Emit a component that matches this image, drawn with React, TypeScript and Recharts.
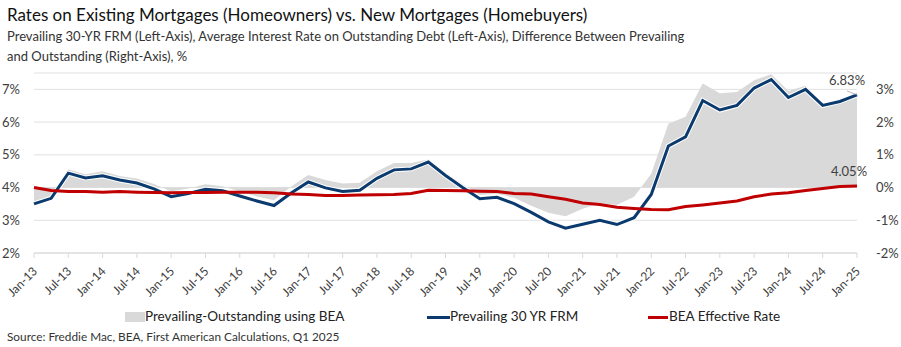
import {
  Area,
  CartesianGrid,
  ComposedChart,
  Line,
  XAxis,
  YAxis,
} from "recharts"

const QUARTERS = [
  "Jan-13", "Apr-13", "Jul-13", "Oct-13",
  "Jan-14", "Apr-14", "Jul-14", "Oct-14",
  "Jan-15", "Apr-15", "Jul-15", "Oct-15",
  "Jan-16", "Apr-16", "Jul-16", "Oct-16",
  "Jan-17", "Apr-17", "Jul-17", "Oct-17",
  "Jan-18", "Apr-18", "Jul-18", "Oct-18",
  "Jan-19", "Apr-19", "Jul-19", "Oct-19",
  "Jan-20", "Apr-20", "Jul-20", "Oct-20",
  "Jan-21", "Apr-21", "Jul-21", "Oct-21",
  "Jan-22", "Apr-22", "Jul-22", "Oct-22",
  "Jan-23", "Apr-23", "Jul-23", "Oct-23",
  "Jan-24", "Apr-24", "Jul-24", "Oct-24",
  "Jan-25",
]

// Prevailing 30 YR FRM, % (left axis)
const PREVAILING = [
  3.5, 3.67, 4.44, 4.29,
  4.36, 4.23, 4.14, 3.96,
  3.72, 3.82, 3.95, 3.9,
  3.74, 3.59, 3.45, 3.83,
  4.17, 3.99, 3.88, 3.92,
  4.28, 4.54, 4.57, 4.78,
  4.37, 4.0, 3.66, 3.7,
  3.51, 3.24, 2.95, 2.76,
  2.88, 3.0, 2.87, 3.08,
  3.79, 5.27, 5.55, 6.66,
  6.37, 6.51, 7.04, 7.3,
  6.75, 7.0, 6.51, 6.63,
  6.83,
]

// BEA effective rate on outstanding debt, % (left axis)
const BEA_RATE = [
  4.0, 3.91, 3.88, 3.88,
  3.86, 3.88, 3.86, 3.85,
  3.84, 3.85, 3.85, 3.86,
  3.86, 3.86, 3.84, 3.8,
  3.79, 3.76, 3.76, 3.77,
  3.78, 3.79, 3.82, 3.92,
  3.91, 3.9, 3.89, 3.88,
  3.82, 3.8, 3.72, 3.64,
  3.53, 3.48, 3.4, 3.36,
  3.33, 3.32, 3.42, 3.47,
  3.53, 3.59, 3.72, 3.8,
  3.84, 3.91, 3.97, 4.03,
  4.05,
]

// Prevailing minus outstanding, percentage points (right axis)
const SPREAD = [
  -0.5, -0.24, 0.56, 0.41,
  0.5, 0.35, 0.28, 0.11,
  -0.12, -0.03, 0.1, 0.04,
  -0.12, -0.27, -0.39, 0.03,
  0.38, 0.23, 0.12, 0.15,
  0.5, 0.75, 0.75, 0.86,
  0.46, 0.1, -0.23, -0.18,
  -0.31, -0.56, -0.77, -0.88,
  -0.65, -0.48, -0.53, -0.28,
  0.42, 1.95, 2.16, 3.18,
  2.88, 2.92, 3.28, 3.46,
  2.95, 3.11, 2.56, 2.61,
  2.8,
]

const LEFT_TICKS = [2, 3, 4, 5, 6, 7]
const RIGHT_TICKS = [-2, -1, 0, 1, 2, 3]

const BLUE = "#0b3a6e"
const RED = "#c00000"
const GRAY = "#d9d9d9"
const TEXT = "#404040"
const FONT = "Lato, 'Noto Sans', sans-serif"

const data = QUARTERS.map((q, i) => ({
  q,
  prevailing: PREVAILING[i],
  bea: BEA_RATE[i],
  spread: SPREAD[i],
}))

const last = QUARTERS.length - 1

function XTick({ x, y, payload }: any) {
  return (
    <text
      x={x + 4}
      y={y + 12}
      transform={`rotate(-45 ${x + 4} ${y + 12})`}
      textAnchor="end"
      fontSize={12}
      fill={TEXT}
      fontFamily={FONT}
    >
      {payload.value}
    </text>
  )
}

function endLabel(text: string, dx: number, leader: boolean) {
  return ({ x, y, index }: any) => {
    if (index !== last) return null
    return (
      <g>
        {leader && (
          <line x1={x - 10} y1={y - 4} x2={x} y2={y} stroke="#a6a6a6" strokeWidth={0.8} />
        )}
        <text
          x={x - dx}
          y={y - 10}
          textAnchor="middle"
          fontSize={13}
          fill={TEXT}
          fontFamily={FONT}
        >
          {text}
        </text>
      </g>
    )
  }
}

export default function App() {
  return (
    <div
      style={{
        position: "absolute",
        left: 0,
        top: 0,
        width: 901,
        height: 347,
        background: "#fff",
        fontFamily: FONT,
        color: "#222",
      }}
    >
      <div style={{ position: "absolute", left: 7, top: 4, fontSize: 17, color: "#111" }}>
        Rates on Existing Mortgages (Homeowners) vs. New Mortgages (Homebuyers)
      </div>
      <div
        style={{
          position: "absolute",
          left: 7,
          top: 26,
          width: 880,
          fontSize: 13,
          lineHeight: "20px",
          color: "#333",
        }}
      >
        Prevailing 30-YR FRM (Left-Axis), Average Interest Rate on Outstanding Debt (Left-Axis), Difference Between Prevailing
        <br />
        and Outstanding (Right-Axis), %
      </div>

      <div style={{ position: "absolute", left: 0, top: 0 }}>
        <ComposedChart
          width={901}
          height={347}
          data={data}
          margin={{ top: 73, right: 0, bottom: 0, left: 0 }}
        >
          <CartesianGrid yAxisId="left" vertical={false} stroke="#e0e0e0" />
          <XAxis
            dataKey="q"
            interval={1}
            height={94}
            tick={<XTick />}
            tickSize={5}
            stroke="#d9d9d9"
            tickLine={{ stroke: "#d9d9d9" }}
          />
          <YAxis
            yAxisId="left"
            domain={[2, 7.5]}
            ticks={LEFT_TICKS}
            width={34}
            axisLine={false}
            tickLine={false}
            tickMargin={8}
            tickFormatter={(v) => `${v}%`}
            tick={{ fontSize: 13, fill: TEXT, fontFamily: FONT }}
          />
          <YAxis
            yAxisId="right"
            orientation="right"
            domain={[-2, 3.5]}
            ticks={RIGHT_TICKS}
            width={44}
            axisLine={false}
            tickLine={false}
            tickMargin={13}
            tickFormatter={(v) => `${v}%`}
            tick={{ fontSize: 13, fill: TEXT, fontFamily: FONT }}
          />
          <Area
            yAxisId="right"
            dataKey="spread"
            type="linear"
            fill={GRAY}
            fillOpacity={1}
            stroke="none"
            isAnimationActive={false}
          />
          <Line
            yAxisId="left"
            dataKey="prevailing"
            type="linear"
            stroke="#ffffff"
            strokeWidth={5}
            dot={false}
            activeDot={false}
            legendType="none"
            isAnimationActive={false}
          />
          <Line
            yAxisId="left"
            dataKey="prevailing"
            type="linear"
            stroke={BLUE}
            strokeWidth={3}
            dot={false}
            activeDot={false}
            label={endLabel("6.83%", 10, true)}
            isAnimationActive={false}
          />
          <Line
            yAxisId="left"
            dataKey="bea"
            type="linear"
            stroke={RED}
            strokeWidth={3}
            dot={false}
            activeDot={false}
            label={endLabel("4.05%", 8, false)}
            isAnimationActive={false}
          />
        </ComposedChart>
      </div>

      <div
        style={{
          position: "absolute",
          left: 0,
          top: 308,
          width: 901,
          height: 18,
          fontSize: 13.5,
          color: "#222",
        }}
      >
        <div style={{ position: "absolute", left: 125, top: 4, width: 20, height: 10, background: GRAY }} />
        <div style={{ position: "absolute", left: 145, top: 0 }}>Prevailing-Outstanding using BEA</div>
        <div style={{ position: "absolute", left: 427, top: 8, width: 23, height: 3, background: BLUE }} />
        <div style={{ position: "absolute", left: 450, top: 0 }}>Prevailing 30 YR FRM</div>
        <div style={{ position: "absolute", left: 648, top: 8, width: 20, height: 3, background: RED }} />
        <div style={{ position: "absolute", left: 669, top: 0 }}>BEA Effective Rate</div>
      </div>

      <div style={{ position: "absolute", left: 7, top: 329, fontSize: 11.8, color: "#333" }}>
        Source: Freddie Mac, BEA, First American Calculations, Q1 2025
      </div>
    </div>
  )
}
